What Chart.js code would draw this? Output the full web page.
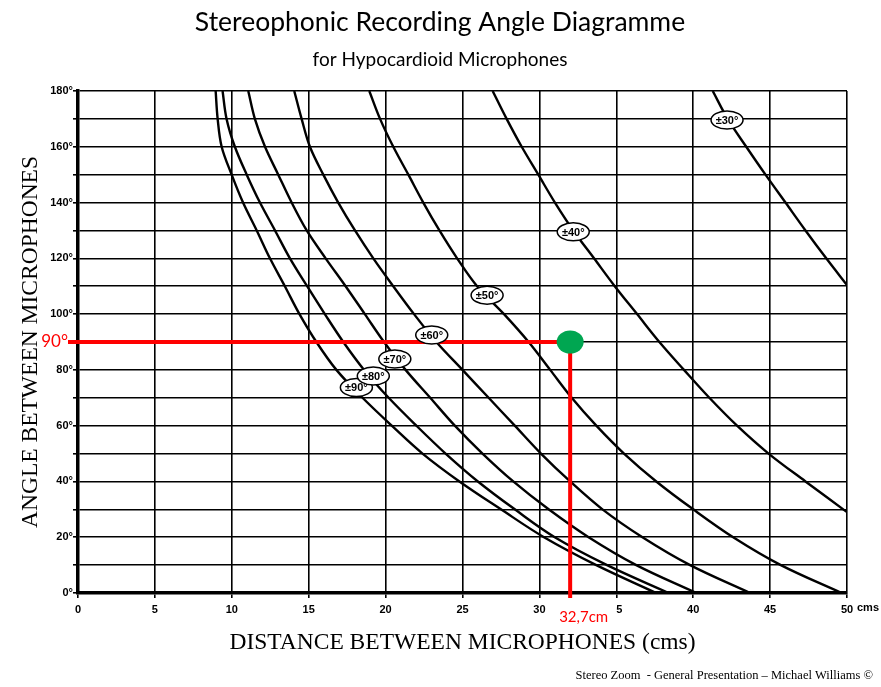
<!DOCTYPE html>
<html>
<head>
<meta charset="utf-8">
<script src="https://cdn.jsdelivr.net/npm/chart.js@4.4.0/dist/chart.umd.min.js"></script>
<style>
html, body { margin: 0; padding: 0; background: #fff; }
</style>
</head>
<body>
<canvas id="chart" width="881" height="687"></canvas>
<script>
// x = distance between microphones (cm), y = angle between microphones (deg)
const angles = [180, 170, 160, 150, 140, 130, 120, 110, 100, 90, 80, 70, 60, 50, 40, 30, 20, 10, 0];

const dist90 = [8.95, 9.08, 9.34, 9.99, 10.73, 11.62, 12.48, 13.45, 14.4, 15.5, 16.8, 18.5, 20.4, 22.4, 24.8, 27.5, 30.3, 33.7, 37.6];
const dist80 = [9.4, 9.66, 10.2, 10.97, 11.83, 12.81, 13.78, 14.9, 16.05, 17.25, 18.6, 20.2, 22.0, 23.9, 26.0, 28.4, 31.0, 34.4, 38.4];
const dist70 = [11.07, 11.5, 12.16, 13.02, 13.89, 14.87, 16.1, 17.4, 18.65, 19.9, 21.3, 22.9, 24.5, 26.3, 28.3, 30.6, 33.2, 36.3, 40.2];
const dist60 = [14.06, 14.54, 15.08, 15.95, 16.92, 18.01, 19.2, 20.5, 21.85, 23.3, 25.0, 26.7, 28.4, 30.1, 32.0, 34.1, 36.7, 39.8, 43.7];
const dist50 = [18.94, 19.64, 20.5, 21.48, 22.45, 23.5, 24.65, 25.95, 27.7, 29.3, 30.7, 32.1, 33.7, 35.5, 37.6, 40.0, 42.6, 45.7, 49.65];

const angles40 = [180, 170, 160, 150, 140, 130, 120, 110, 100, 90, 80, 70, 60, 50, 40, 29];
const dist40 = [26.96, 27.87, 28.85, 29.93, 31.01, 32.2, 33.55, 34.9, 36.35, 37.8, 39.4, 41.05, 42.85, 44.9, 47.3, 50];

const angles30 = [180, 170, 160, 150, 140, 130, 120, 110.4];
const dist30 = [41.27, 42.24, 43.45, 44.7, 46.0, 47.3, 48.65, 50];

// curve tags (drawn in this order, ±80 over ±90)
const tagText = ['±30°', '±40°', '±50°', '±60°', '±70°', '±90°', '±80°'];
const tagDist = [42.2, 32.2, 26.6, 23.0, 20.6, 18.1, 19.2];
const tagAngle = [169.6, 129.5, 106.8, 92.5, 83.9, 73.7, 77.8];

// worked example
const markerAngle = 90;
const markerDist = 32.0;
const markerAngleText = '90°';
const markerDistText = '32,7cm';

const titleText = 'Stereophonic Recording Angle Diagramme';
const subtitleText = 'for Hypocardioid Microphones';
const creditText = 'Stereo Zoom  - General Presentation \u2013 Michael Williams \u00A9';

const tickFont = "'Liberation Sans', Arial, sans-serif";
const serifFont = "'Liberation Serif', 'Times New Roman', serif";
const sansFont = "Lato, 'Open Sans', sans-serif";

function pts(xs, ys) {
    return xs.map((x, i) => ({x: x, y: ys[i]}));
}

function curve(label, xs, ys) {
    return {
        label: label,
        data: pts(xs, ys),
        borderColor: '#000',
        borderWidth: 2.4,
        pointRadius: 0,
        tension: 0.35,
        fill: false
    };
}

const extras = {
    id: 'extras',
    afterDatasetsDraw(chart) {
        const ctx = chart.ctx;
        const xs = chart.scales.x, ys = chart.scales.y;
        const left = chart.chartArea.left;
        const bottom = chart.chartArea.bottom;
        const mx = xs.getPixelForValue(markerDist);
        const my = ys.getPixelForValue(markerAngle);

        ctx.save();
        // red guide lines
        ctx.strokeStyle = '#ff0000';
        ctx.lineWidth = 4;
        ctx.beginPath();
        ctx.moveTo(left - 10, my);
        ctx.lineTo(mx, my);
        ctx.moveTo(mx, my);
        ctx.lineTo(mx, bottom + 5);
        ctx.stroke();

        // green dot
        ctx.fillStyle = '#00a651';
        ctx.beginPath();
        ctx.ellipse(mx, my, 13.5, 11.5, 0, 0, Math.PI * 2);
        ctx.fill();

        // red labels
        ctx.fillStyle = '#ff0000';
        ctx.font = '17px ' + sansFont;
        ctx.textAlign = 'right';
        ctx.textBaseline = 'middle';
        ctx.fillText(markerAngleText, left - 10, my);

        // the distance label hides the "3" of the 35 tick, as in the original
        ctx.font = '15px ' + sansFont;
        ctx.fillStyle = '#fff';
        ctx.fillRect(mx - 13, bottom + 7, 59, 22);
        ctx.fillStyle = '#ff0000';
        ctx.textAlign = 'left';
        ctx.fillText(markerDistText, mx - 11, bottom + 24);

        // curve tags
        ctx.font = 'bold 11px ' + tickFont;
        tagText.forEach((t, i) => {
            const px = xs.getPixelForValue(tagDist[i]);
            const py = ys.getPixelForValue(tagAngle[i]);
            ctx.beginPath();
            ctx.ellipse(px, py, 16, 9, 0, 0, Math.PI * 2);
            ctx.fillStyle = '#fff';
            ctx.fill();
            ctx.lineWidth = 1.5;
            ctx.strokeStyle = '#000';
            ctx.stroke();
            ctx.fillStyle = '#000';
            ctx.textAlign = 'center';
            ctx.fillText(t, px, py + 1);
        });
        ctx.restore();
    },
    afterDraw(chart) {
        const ctx = chart.ctx;
        const xs = chart.scales.x;
        ctx.save();
        ctx.fillStyle = '#000';
        ctx.textBaseline = 'middle';
        ctx.textAlign = 'center';
        ctx.font = '26.5px ' + sansFont;
        ctx.fillText(titleText, 440, 22);
        ctx.font = '19px ' + sansFont;
        ctx.fillText(subtitleText, 440, 60);

        ctx.font = 'bold 11px ' + tickFont;
        ctx.textAlign = 'left';
        ctx.fillText('cms', xs.getPixelForValue(50) + 10, chart.chartArea.bottom + 15);

        ctx.font = '12.5px ' + serifFont;
        ctx.textAlign = 'right';
        ctx.fillText(creditText, 873, 676);
        ctx.restore();
    }
};

const ctx = document.getElementById('chart').getContext('2d');
const chart = new Chart(ctx, {
    type: 'line',
    data: {
        datasets: [
            curve('±90°', dist90, angles),
            curve('±80°', dist80, angles),
            curve('±70°', dist70, angles),
            curve('±60°', dist60, angles),
            curve('±50°', dist50, angles),
            curve('±40°', dist40, angles40),
            curve('±30°', dist30, angles30)
        ]
    },
    options: {
        responsive: false,
        animation: false,
        devicePixelRatio: 1,
        layout: {padding: {top: 91, right: 34, left: 0, bottom: 0}},
        plugins: {
            legend: {display: false},
            title: {display: false},
            tooltip: {enabled: false}
        },
        scales: {
            x: {
                type: 'linear',
                min: 0,
                max: 50,
                afterFit: (s) => { s.height = 94; },
                ticks: {
                    stepSize: 5,
                    color: '#000',
                    padding: 5,
                    font: {family: tickFont, size: 11, weight: 'bold'},
                    maxRotation: 0
                },
                grid: {color: '#000', lineWidth: 1.6, tickLength: 5, tickColor: '#000'},
                border: {display: true, color: '#000', width: 3.5},
                title: {
                    display: true,
                    text: 'DISTANCE BETWEEN MICROPHONES (cms)',
                    color: '#000',
                    font: {family: serifFont, size: 23.5},
                    padding: {top: 0, bottom: 30}
                }
            },
            y: {
                type: 'linear',
                min: 0,
                max: 180,
                afterFit: (s) => { s.width = 78; },
                ticks: {
                    stepSize: 10,
                    color: '#000',
                    padding: 0,
                    font: {family: tickFont, size: 11, weight: 'bold'},
                    callback: (v) => (v % 20 === 0 ? v + '°' : '')
                },
                grid: {color: '#000', lineWidth: 1.6, tickLength: 5, tickColor: '#000'},
                border: {display: true, color: '#000', width: 3.5},
                title: {
                    display: true,
                    text: 'ANGLE BETWEEN MICROPHONES',
                    color: '#000',
                    font: {family: serifFont, size: 23.5},
                    padding: {top: 17, bottom: 0}
                }
            }
        }
    },
    plugins: [extras]
});
</script>
</body>
</html>
